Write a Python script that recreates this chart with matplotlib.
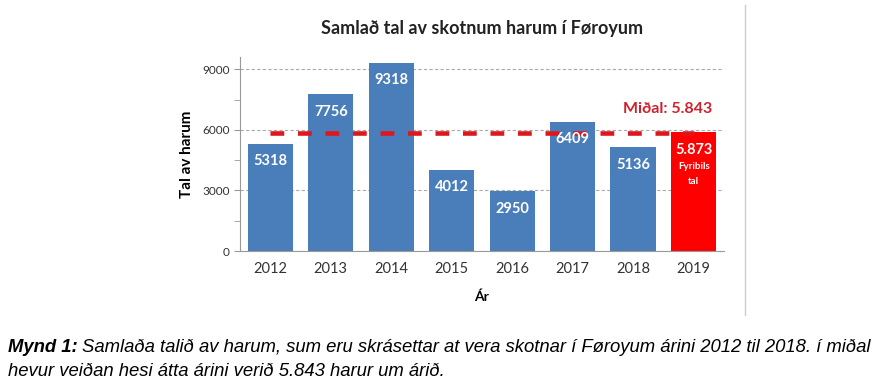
import matplotlib.pyplot as plt
from matplotlib.lines import Line2D

# data
years = ['2012', '2013', '2014', '2015', '2016', '2017', '2018', '2019']
counts = [5318, 7756, 9318, 4012, 2950, 6409, 5136, 5873]
labels = ['5318', '7756', '9318', '4012', '2950', '6409', '5136', '5.873']
mean_val = 5843
yticks = [0, 3000, 6000, 9000]

plt.rcParams['font.family'] = ['Lato', 'DejaVu Sans']

fig = plt.figure(figsize=(8.86, 3.83), dpi=100)
ax = fig.add_axes([0.271, 0.3446, 0.546, 0.506])

colors = ['#4a7ebb'] * 7 + ['#ff0000']
x = range(len(years))
bars = ax.bar(x, counts, width=0.75, color=colors, zorder=2)

# miðal line, on top of the bars
ax.plot([0, 7], [mean_val, mean_val], color='#e0161d', lw=3.3,
        dashes=(3, 3), zorder=2.5)
ax.text(7.3, 7050, 'Miðal: 5.843', color='#d0202e', fontsize=11.5,
        fontweight='bold', ha='right', va='center')

# value labels inside the bars
for i, b in enumerate(bars):
    ax.annotate(labels[i], (b.get_x() + b.get_width() / 2, b.get_height()),
                xytext=(0, -12.5), textcoords='offset points', ha='center', va='center',
                color='white', fontsize=10.5, fontweight='bold', zorder=3)
ax.annotate('Fyribils', (7, counts[7]), xytext=(0, -24.5), textcoords='offset points',
            ha='center', va='center', color='white', fontsize=7, fontweight='bold', zorder=3)
ax.annotate('tal', (7, counts[7]), xytext=(0, -35.5), textcoords='offset points',
            ha='center', va='center', color='white', fontsize=7, fontweight='bold', zorder=3)

ax.set_xlim(-0.5, 7.5)
ax.set_ylim(0, 9600)
ax.set_yticks(yticks)
ax.set_yticks([1500, 4500, 7500], minor=True)
ax.set_xticks(list(x))
ax.set_xticklabels(years, fontsize=10.5, color='#333333')
ax.tick_params(axis='y', labelsize=8.5, colors='#333333')
ax.tick_params(axis='both', which='both', color='#999999', length=4)
ax.tick_params(axis='x', length=0, pad=8)
ax.yaxis.grid(True, linestyle=(0, (3, 2)), color='#aaaaaa', lw=0.8, zorder=0)

for s in ['top', 'right']:
    ax.spines[s].set_visible(False)
for s in ['left', 'bottom']:
    ax.spines[s].set_color('#999999')

ax.set_xlabel('Ár', fontsize=10, fontweight='bold', labelpad=10)
ax.set_ylabel('Tal av harum', fontsize=11, fontweight='bold', labelpad=6)
ax.set_title('Samlað tal av skotnum harum í Føroyum', fontsize=13,
             fontweight='bold', pad=17, color='#222222')

# right border of the chart box
fig.add_artist(Line2D([745 / 886, 745 / 886], [1 - 5 / 383, 1 - 315 / 383],
                      color='#cccccc', lw=1))

# caption
cap_font = ['Liberation Sans', 'DejaVu Sans']
t = fig.text(8 / 886, 1 - 348 / 383, 'Mynd 1:', fontsize=13.3, fontweight='bold',
             style='italic', family=cap_font, va='center')
fig.canvas.draw()
bb = t.get_window_extent()
fig.text(bb.x1 / 886 + 0.005, 1 - 348 / 383,
         'Samlaða talið av harum, sum eru skrásettar at vera skotnar í Føroyum árini 2012 til 2018. í miðal',
         fontsize=13.3, style='italic', family=cap_font, va='center')
fig.text(8 / 886, 1 - 371 / 383, 'hevur veiðan hesi átta árini verið 5.843 harur um árið.',
         fontsize=13.3, style='italic', family=cap_font, va='center')

fig.savefig('out.png', dpi=100)
